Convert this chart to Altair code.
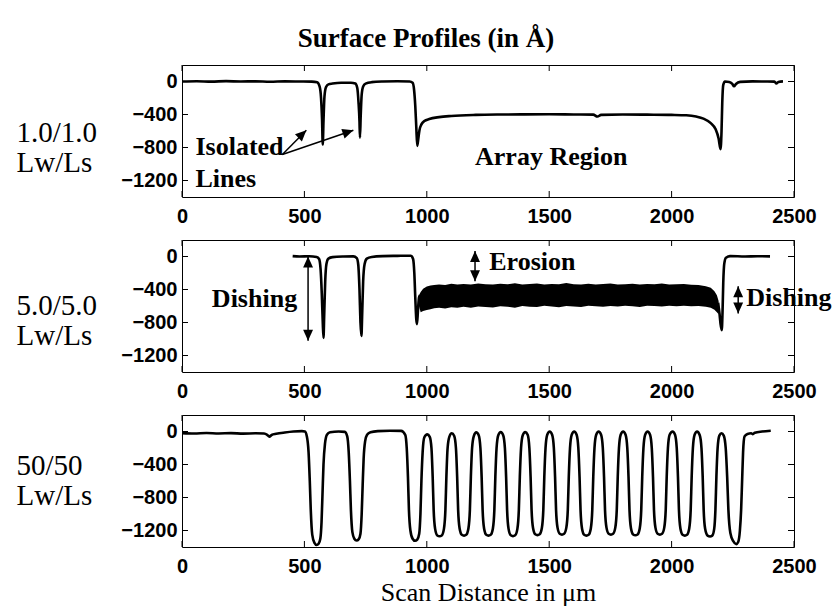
import altair as alt
import pandas as pd

# ---------------- data ----------------
x_ticks = [0, 500, 1000, 1500, 2000, 2500]
y_ticks = [0, -400, -800, -1200]

panel_labels = [["1.0/1.0", "Lw/Ls"], ["5.0/5.0", "Lw/Ls"], ["50/50", "Lw/Ls"]]
title_text = "Surface Profiles (in Å)"
x_title = "Scan Distance in μm"

# 1.0/1.0 profile
p1_x = [0, 60, 120, 180, 240, 300, 360, 420, 480, 530,
        552, 562, 568, 572, 575, 578, 582, 588, 598, 615,
        650, 690, 708, 716, 721, 725, 727, 730, 734, 740,
        750, 775, 820, 880, 930, 942, 948, 953, 957, 961,
        965, 970, 978, 990, 1010, 1050, 1100, 1200, 1300, 1400,
        1500, 1600, 1680, 1697, 1712, 1800, 1900, 2000, 2060, 2100,
        2130, 2160, 2180, 2192, 2200, 2204, 2207, 2211, 2218, 2235,
        2248, 2255, 2263, 2280, 2330, 2380, 2420, 2428, 2436, 2455]
p1_y = [0, 3, -2, 4, 0, 2, -3, 2, 0, -2,
        -10, -60, -200, -450, -764, -480, -180, -70, -35, -25,
        -15, -15, -25, -80, -250, -480, -680, -420, -160, -60,
        -25, -8, 0, 3, 0, -15, -100, -300, -550, -780,
        -700, -590, -520, -480, -455, -432, -418, -405, -400, -398,
        -397, -400, -402, -425, -404, -400, -402, -405, -410, -425,
        -450, -505, -580, -690, -820, -600, -250, -40, 0, -5,
        -30, -58, -30, -5, 2, 0, -2, -25, -5, 2]

# 5.0/5.0 profile: isolated part, dense array band, right edge
p2a_x = [452, 480, 520, 550, 560, 566, 571, 575, 578, 581,
         585, 590, 598, 615, 660, 700, 714, 720, 725, 729,
         733, 736, 740, 746, 755, 775, 820, 880, 935, 944,
         949, 953, 957, 960, 964, 968, 972]
p2a_y = [5, 0, 3, -5, -30, -150, -450, -800, -988, -700,
         -300, -90, -25, -8, 0, 2, -20, -100, -400, -800,
         -964, -700, -300, -90, -25, -5, 5, 8, 10, -30,
         -200, -500, -760, -820, -650, -500, -470]
p2b_x = [2190, 2196, 2200, 2205, 2208, 2211, 2215, 2222, 2240, 2300, 2350, 2402]
p2b_y = [-560, -700, -820, -892, -680, -320, -90, -15, 5, 0, 3, 2]
band_x = [968, 975, 985, 1000, 1015, 1030, 1050, 1075, 1100, 1125,
          1150, 1180, 1210, 1240, 1270, 1300, 1330, 1360, 1390, 1420,
          1450, 1480, 1510, 1540, 1570, 1600, 1630, 1660, 1690, 1720,
          1750, 1780, 1810, 1840, 1870, 1900, 1930, 1960, 1990, 2020,
          2050, 2080, 2110, 2140, 2160, 2175, 2185, 2192]
band_hi = [-470, -430, -390, -365, -352, -346, -338, -344, -330, -340,
           -333, -338, -326, -336, -340, -330, -337, -325, -338, -334,
           -328, -340, -332, -336, -322, -335, -338, -330, -340, -333,
           -327, -338, -335, -330, -340, -332, -336, -328, -338, -335,
           -332, -342, -345, -360, -380, -420, -470, -540]
band_lo = [-600, -675, -660, -648, -640, -628, -622, -630, -615, -620,
           -610, -622, -605, -612, -618, -603, -610, -620, -600, -608,
           -612, -598, -606, -615, -600, -605, -612, -598, -604, -610,
           -600, -606, -596, -604, -612, -598, -600, -606, -596, -602,
           -598, -604, -600, -608, -620, -645, -675, -700]

# 50/50 profile
p3_x = [0, 50, 100, 150, 200, 250, 300, 335, 348, 357, 366, 385, 420, 455, 490, 502,
        510, 517, 522, 526, 532, 541, 550, 558, 565, 570, 574, 578, 584, 592, 605,
        640, 665,
        675, 681, 686, 690, 696, 704, 713, 722, 729, 734, 738, 742, 748, 756, 770, 800, 850, 895,
        912, 918, 923, 927, 933, 942, 952, 961, 969, 974, 978, 983, 990,
        1002,
        1012, 1019, 1024, 1028, 1034, 1043, 1052, 1061, 1070, 1076, 1080, 1085, 1092,
        1102,
        1112, 1119, 1124, 1128, 1134, 1143, 1152, 1161, 1170, 1176, 1180, 1185, 1192,
        1202,
        1212, 1219, 1224, 1228, 1234, 1243, 1252, 1261, 1270, 1276, 1280, 1285, 1292,
        1302,
        1312, 1319, 1324, 1328, 1334, 1343, 1352, 1361, 1370, 1376, 1380, 1385, 1392,
        1402,
        1412, 1419, 1424, 1428, 1434, 1443, 1452, 1461, 1470, 1476, 1480, 1485, 1492,
        1502,
        1512, 1519, 1524, 1528, 1534, 1543, 1552, 1561, 1570, 1576, 1580, 1585, 1592,
        1602,
        1612, 1619, 1624, 1628, 1634, 1643, 1652, 1661, 1670, 1676, 1680, 1685, 1692,
        1702,
        1712, 1719, 1724, 1728, 1734, 1743, 1752, 1761, 1770, 1776, 1780, 1785, 1792,
        1802,
        1812, 1819, 1824, 1828, 1834, 1843, 1852, 1861, 1870, 1876, 1880, 1885, 1892,
        1902,
        1912, 1919, 1924, 1928, 1934, 1943, 1952, 1961, 1970, 1976, 1980, 1985, 1992,
        2004,
        2014, 2021, 2026, 2030, 2036, 2045, 2054, 2063, 2072, 2078, 2082, 2087, 2094,
        2104,
        2115, 2122, 2127, 2131, 2137, 2147, 2157, 2166, 2174, 2179, 2183, 2188, 2195,
        2204,
        2213, 2221, 2227, 2232, 2240, 2252, 2264, 2272, 2279, 2284, 2288, 2292, 2298,
        2310, 2325, 2332, 2340, 2370, 2405]
p3_y = [-20, -25, -18, -24, -20, -26, -22, -25, -40, -62, -42, -28, -12, 0, 5, 0,
        -60, -250, -600, -950, -1250, -1350, -1375, -1360, -1300, -1100, -750, -400, -150, -40, -10,
        0, -5,
        -60, -250, -600, -950, -1220, -1300, -1322, -1305, -1240, -1000, -650, -330, -120, -40, -10, 5, 10, 8,
        -40, -200, -550, -950, -1200, -1300, -1325, -1310, -1240, -1000, -600, -250, -70,
        -35,
        -65, -200, -550, -950, -1180, -1260, -1270, -1260, -1180, -950, -550, -200, -65,
        -22,
        -55, -200, -550, -950, -1175, -1252, -1262, -1252, -1175, -950, -550, -200, -55,
        -10,
        -45, -200, -550, -950, -1175, -1252, -1262, -1252, -1175, -950, -550, -200, -45,
        -8,
        -45, -200, -550, -950, -1180, -1258, -1268, -1258, -1180, -950, -550, -200, -45,
        -8,
        -40, -200, -550, -950, -1170, -1246, -1256, -1246, -1170, -950, -550, -200, -40,
        -2,
        -40, -200, -550, -950, -1165, -1240, -1250, -1240, -1165, -950, -550, -200, -40,
        -2,
        -40, -200, -550, -950, -1175, -1252, -1262, -1252, -1175, -950, -550, -200, -40,
        -2,
        -40, -200, -550, -950, -1165, -1240, -1250, -1240, -1165, -950, -550, -200, -40,
        -2,
        -40, -200, -550, -950, -1172, -1248, -1258, -1248, -1172, -950, -550, -200, -40,
        -2,
        -40, -200, -550, -950, -1165, -1240, -1250, -1240, -1165, -950, -550, -200, -40,
        -2,
        -40, -200, -550, -950, -1175, -1252, -1262, -1252, -1175, -950, -550, -200, -40,
        -2,
        -45, -200, -550, -950, -1180, -1262, -1272, -1262, -1180, -950, -550, -200, -50,
        -22,
        -50, -200, -550, -950, -1230, -1330, -1365, -1340, -1200, -950, -600, -250, -60,
        -30, -22, -32, -15, 0, 10]

# annotations (data coordinates)
ann1_text = ["Isolated", "Lines", "Array Region"]
ann1_x = [55, 55, 1197]
ann1_y = [-895, -1280, -1010]
arr1_x = [410, 410]
arr1_y = [-885, -885]
arr1_x2 = [508, 700]
arr1_y2 = [-590, -590]
head1_x = [508, 700]
head1_y = [-590, -590]
head1_a = [46, 71]

ann2_text = ["Dishing", "Erosion", "Dishing"]
ann2_x = [122, 1255, 2305]
ann2_y = [-612, -160, -600]
arr2_x = [515, 1197, 2272]
arr2_y = [0, 68, -360]
arr2_y2 = [-1020, -300, -692]
head2_x = [515, 515, 1197, 1197, 2272, 2272]
head2_y = [0, -1020, 68, -300, -360, -692]
head2_a = [0, 180, 0, 180, 0, 180]

# ---------------- styling ----------------
W, H = 612, 132
TICK = 6
SERIF = "Liberation Serif"
SANS = "Liberation Sans"
HEAD = "M0,0L-0.45,1L0.45,1Z"

XS = alt.Scale(domain=[0, 2500], nice=False, zero=False)
YS = alt.Scale(domain=[-1400, 200], nice=False, zero=False)
XQ = alt.X("x:Q", scale=XS)
YQ = alt.Y("y:Q", scale=YS)


def x_axis(with_title):
    kw = dict(values=x_ticks, format="d", labelFont=SANS, labelFontSize=20,
              labelFontWeight="bold", labelColor="black", labelPadding=9, labelFlush=False,
              labelOverlap=False, ticks=False, tickSize=0, domain=False, grid=False)
    if with_title:
        kw.update(title=x_title, titleFont=SERIF, titleFontSize=26, titleFontWeight="normal",
                  titleColor="black", titleX=W / 2, titleY=53, titleAlign="center",
                  titleBaseline="alphabetic")
    else:
        kw.update(title=" ")
    return alt.Axis(**kw)


def y_axis(lines, ty):
    return alt.Axis(values=y_ticks, format="d", labelFont=SANS, labelFontSize=20,
                    labelFontWeight="bold", labelColor="black", labelPadding=5, ticks=False,
                    tickSize=0, domain=False, grid=False, title=lines, titleAngle=0,
                    titleAlign="left", titleBaseline="alphabetic", titleX=-166, titleY=ty,
                    titleFont=SERIF, titleFontSize=29, titleFontWeight="normal",
                    titleLineHeight=30, titleColor="black")


xt = pd.DataFrame({"x": x_ticks})
yt = pd.DataFrame({"y": y_ticks})


def tick_layers():
    r = dict(color="black", strokeWidth=1)
    return [
        alt.Chart(xt).mark_rule(**r).encode(x=XQ, y=alt.value(H), y2=alt.value(H - TICK)),
        alt.Chart(xt).mark_rule(**r).encode(x=XQ, y=alt.value(0), y2=alt.value(TICK)),
        alt.Chart(yt).mark_rule(**r).encode(y=YQ, x=alt.value(0), x2=alt.value(TICK)),
        alt.Chart(yt).mark_rule(**r).encode(y=YQ, x=alt.value(W), x2=alt.value(W - TICK)),
    ]


def profile(df, label, ty, xtitle=False, detail=False):
    enc = dict(x=alt.X("x:Q", scale=XS, axis=x_axis(xtitle)),
               y=alt.Y("y:Q", scale=YS, axis=y_axis(label, ty)))
    if detail:
        enc["detail"] = "part:N"
    return alt.Chart(df).mark_line(color="black", strokeWidth=2.6,
                                   interpolate="monotone", clip=True).encode(**enc)


def texts(t, x, y):
    df = pd.DataFrame({"t": t, "x": x, "y": y})
    return alt.Chart(df).mark_text(align="left", baseline="alphabetic", font=SERIF,
                                   fontSize=26, fontWeight="bold", color="black").encode(
        x=XQ, y=YQ, text="t:N")


def arrows(x, y, x2, y2):
    df = pd.DataFrame({"x": x, "y": y, "x2": x2, "y2": y2})
    return alt.Chart(df).mark_rule(color="black", strokeWidth=1.5).encode(
        x=XQ, y=YQ, x2="x2:Q", y2="y2:Q")


def heads(x, y, a):
    df = pd.DataFrame({"x": x, "y": y, "a": a})
    return alt.Chart(df).mark_point(shape=HEAD, filled=True, size=484, color="black",
                                    opacity=1, strokeWidth=0).encode(
        x=XQ, y=YQ, angle=alt.Angle("a:Q", scale=None))


# ---------------- panel 1 ----------------
df1 = pd.DataFrame({"x": p1_x, "y": p1_y})
c1 = alt.layer(
    profile(df1, panel_labels[0], 76),
    *tick_layers(),
    texts(ann1_text, ann1_x, ann1_y),
    arrows(arr1_x, arr1_y, arr1_x2, arr1_y2),
    heads(head1_x, head1_y, head1_a),
).properties(width=W, height=H,
             title=alt.TitleParams(text=title_text, font=SERIF, fontSize=27, fontWeight="bold",
                                   color="black", anchor="middle", frame="group",
                                   baseline="alphabetic", offset=-9, dx=-62))

# ---------------- panel 2 ----------------
df2 = pd.concat([
    pd.DataFrame({"x": p2a_x, "y": p2a_y, "part": "a"}),
    pd.DataFrame({"x": p2b_x, "y": p2b_y, "part": "b"}),
], ignore_index=True)
band = alt.Chart(pd.DataFrame({"x": band_x, "y": band_hi, "y2": band_lo})).mark_area(
    color="black", opacity=1).encode(x=XQ, y=YQ, y2="y2:Q")
c2 = alt.layer(
    profile(df2, panel_labels[1], 74, detail=True),
    band,
    *tick_layers(),
    texts(ann2_text, ann2_x, ann2_y),
    arrows(arr2_x, arr2_y, arr2_x, arr2_y2),
    heads(head2_x, head2_y, head2_a),
).properties(width=W, height=H)

# ---------------- panel 3 ----------------
df3 = pd.DataFrame({"x": p3_x, "y": p3_y})
c3 = alt.layer(
    profile(df3, panel_labels[2], 59, xtitle=True),
    *tick_layers(),
).properties(width=W, height=H)

chart = alt.vconcat(c1, c2, c3, spacing=43, bounds="flush").properties(
    padding={"left": 15, "top": 24, "right": 5, "bottom": 0},
    background="white",
).configure_view(stroke="black", strokeWidth=1)

chart.save("out.html", embed_options={"renderer": "svg", "actions": False})
